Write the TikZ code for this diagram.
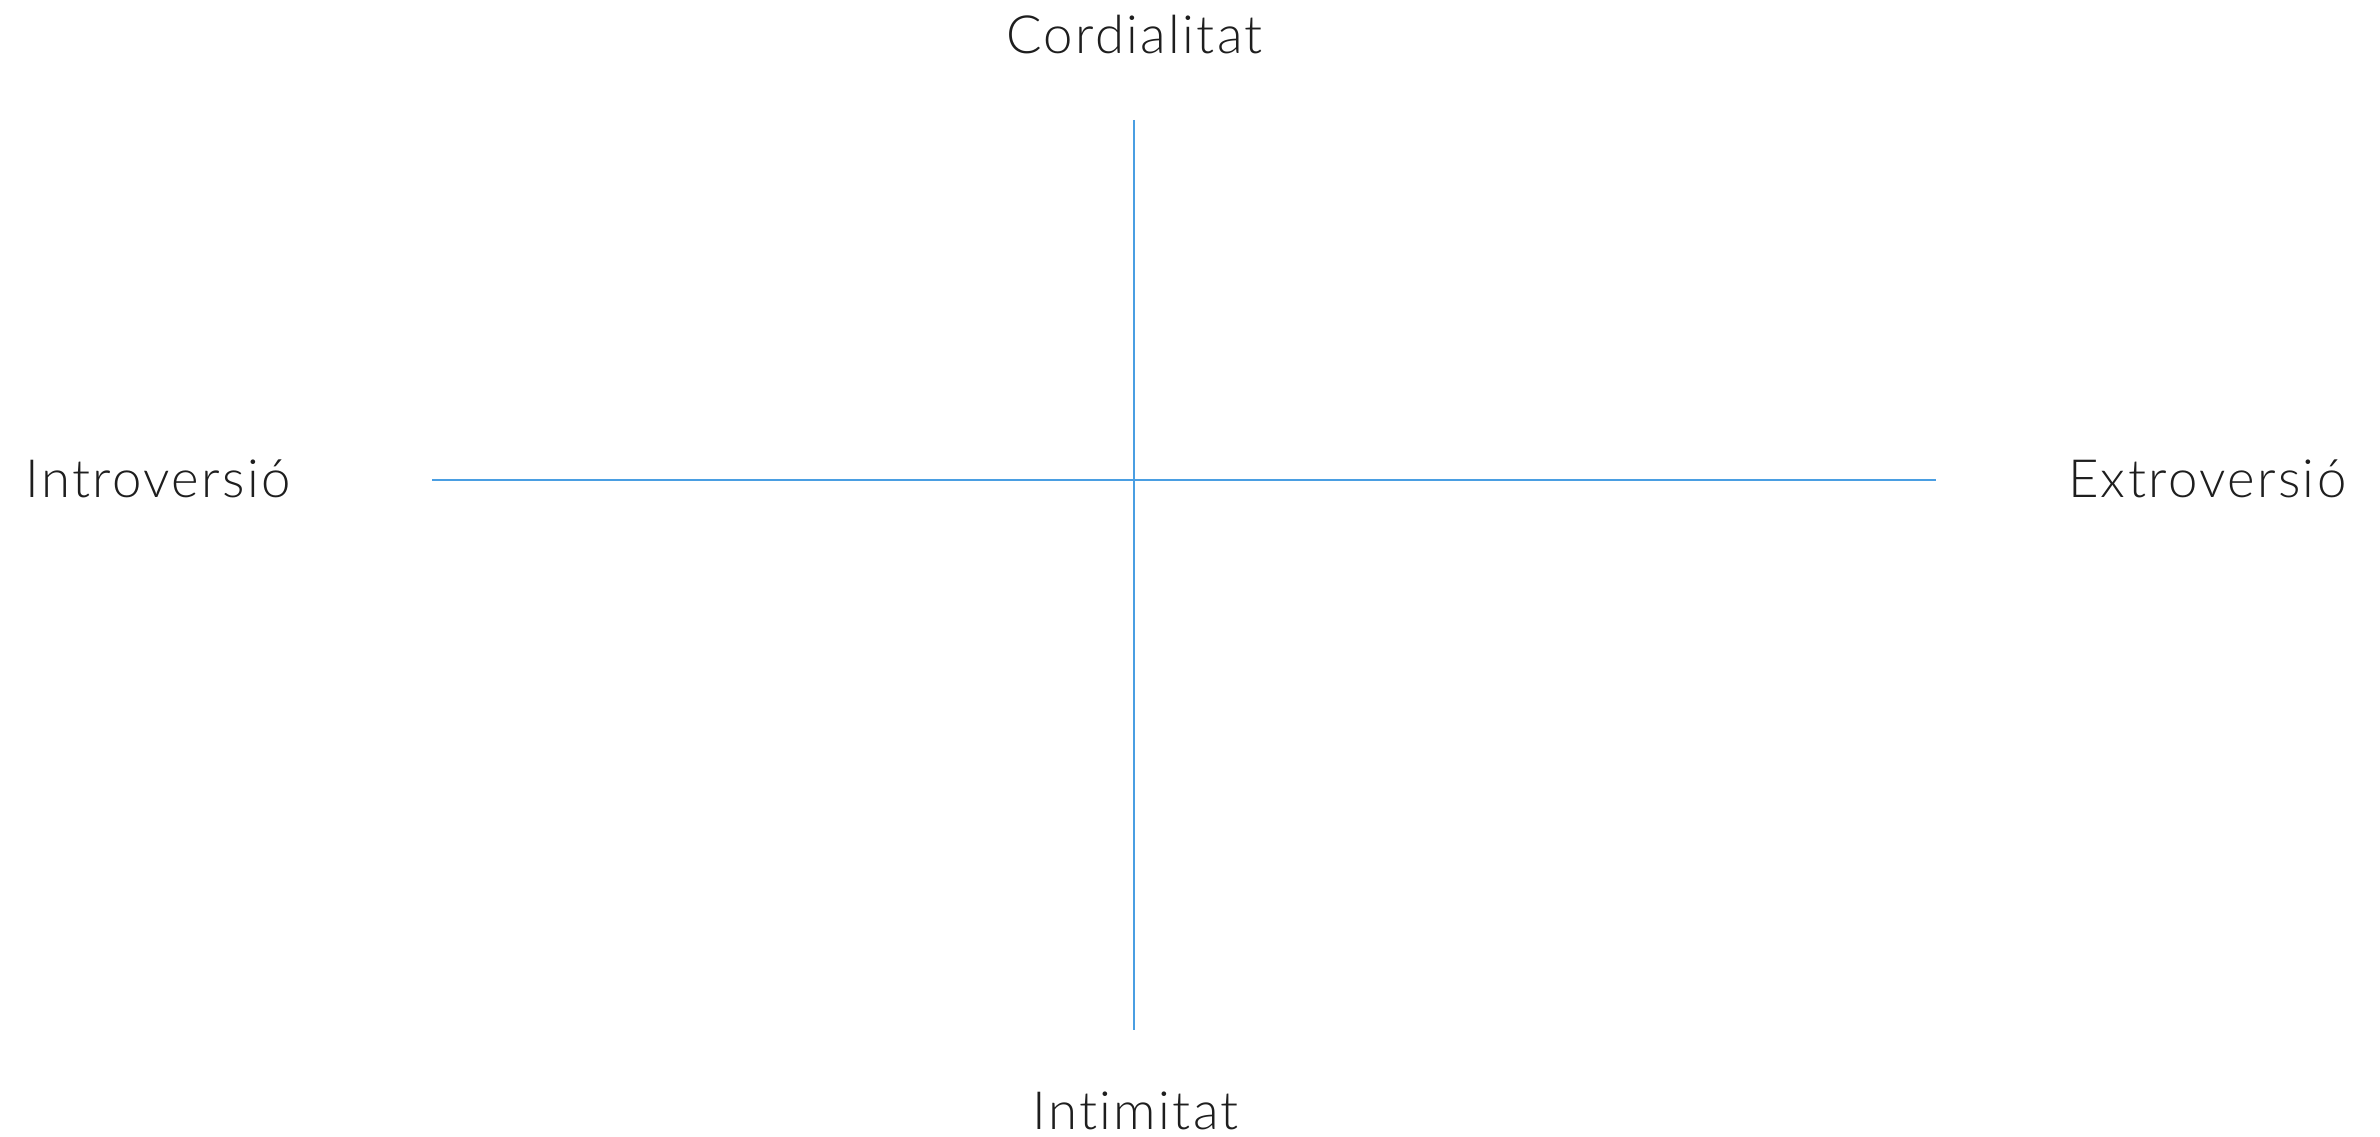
\documentclass[tikz,border=0pt]{standalone}
\usepackage{fontspec}
\setmainfont{Lato Light}[LetterSpace=4.5, Ligatures={NoCommon,NoRare,NoDiscretionary}]
\definecolor{axisBlue}{RGB}{74,158,226}
\definecolor{labelInk}{RGB}{30,30,30}

\begin{document}
\begin{tikzpicture}[x=1cm, y=1cm, font=\fontsize{15}{18}\selectfont]
\useasboundingbox (0,0) rectangle (23.8,11.37);
%% Axis ends
\coordinate (top) at (11.34, 10.17);
\coordinate (bottom) at (11.34, 1.07);
\coordinate (left) at (4.32, 6.57);
\coordinate (right) at (19.36, 6.57);
%% Axes
\draw[axisBlue, line width=0.6pt] (left) -- (right);
\draw[axisBlue, line width=0.6pt] (top) -- (bottom);
%% Pole labels
\node[labelInk, inner sep=0pt, anchor=base] (cordial) at (11.345, 10.83) {Cordialitat};
\node[labelInk, inner sep=0pt, anchor=base] (intim) at (11.355, 0.07) {Intimitat};
\node[labelInk, inner sep=0pt, anchor=base west] (intro) at (0.25, 6.39) {Introversió};
\node[labelInk, inner sep=0pt, anchor=base east] (extro) at (23.47, 6.39) {Extroversió};
\end{tikzpicture}
\end{document}
